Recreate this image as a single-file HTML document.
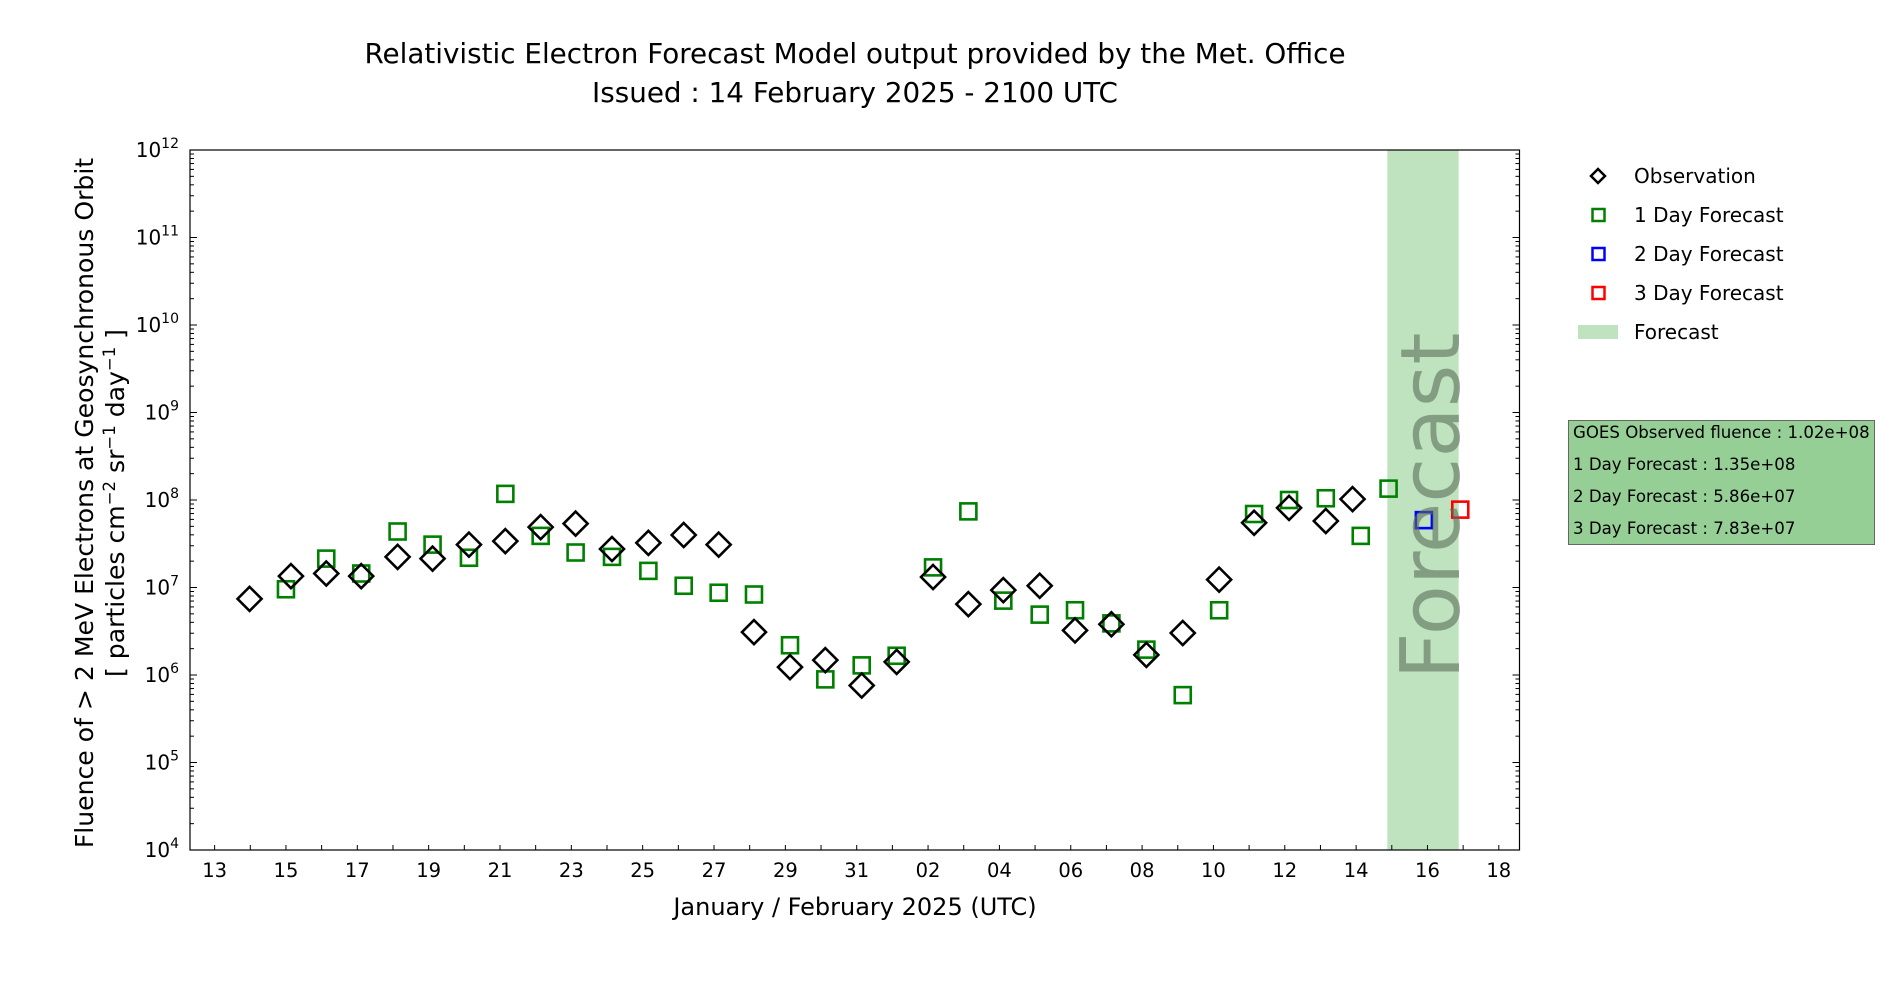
<!DOCTYPE html>
<html><head><meta charset="utf-8">
<style>
html,body{margin:0;padding:0;background:#fff;}
svg{display:block;font-family:"DejaVu Sans","Liberation Sans",sans-serif;}
</style></head>
<body>
<svg id="chart" width="1900" height="1000" viewBox="0 0 1900 1000" xmlns="http://www.w3.org/2000/svg">
  <text x="855" y="63" font-size="27.8" text-anchor="middle" fill="#000">Relativistic Electron Forecast Model output provided by the Met. Office</text>
  <text x="855" y="102" font-size="27.8" text-anchor="middle" fill="#000">Issued : 14 February 2025 - 2100 UTC</text>
  <g id="plot"></g>
  <text x="855" y="915" font-size="24" text-anchor="middle" fill="#000">January / February 2025 (UTC)</text>
  <g font-size="25.1" fill="#000">
    <text transform="translate(93,503) rotate(-90)" text-anchor="middle">Fluence of &gt; 2 MeV Electrons at Geosynchronous Orbit</text>
    <text transform="translate(124,503) rotate(-90)" text-anchor="middle">[ particles cm<tspan baseline-shift="super" font-size="16.5">−2</tspan> sr<tspan baseline-shift="super" font-size="16.5">−1</tspan> day<tspan baseline-shift="super" font-size="16.5">−1</tspan> ]</text>
  </g>
  <g font-size="20" fill="#000">
    <g>
      <polygon points="1598,169 1605,176 1598,183 1591,176" fill="none" stroke="#000" stroke-width="2.5"/>
      <text x="1634" y="183">Observation</text></g>
    <g>
      <rect x="1592.5" y="209" width="12" height="12" fill="none" stroke="#008000" stroke-width="2.5"/>
      <text x="1634" y="222">1 Day Forecast</text></g>
    <g>
      <rect x="1592.5" y="248" width="12" height="12" fill="none" stroke="#0000ff" stroke-width="2.5"/>
      <text x="1634" y="261">2 Day Forecast</text></g>
    <g>
      <rect x="1592.5" y="287" width="12" height="12" fill="none" stroke="#ff0000" stroke-width="2.5"/>
      <text x="1634" y="300">3 Day Forecast</text></g>
    <g>
      <rect x="1578" y="325" width="40" height="14" fill="#bfe3bf"/>
      <text x="1634" y="339">Forecast</text></g>
  </g>
  <g font-size="16.6" fill="#000">
    <rect x="1568.5" y="420.5" width="306" height="124" fill="#96cf96" stroke="#666" stroke-width="1"/>
    <text x="1573" y="438">GOES Observed fluence : 1.02e+08</text>
    <text x="1573" y="470">1 Day Forecast : 1.35e+08</text>
    <text x="1573" y="502">2 Day Forecast : 5.86e+07</text>
    <text x="1573" y="534">3 Day Forecast : 7.83e+07</text>
  </g>
</svg>
<script>
// days since 13 January 2025; values as log10(fluence)
const obsDays = [0.98,2.14,3.13,4.11,5.13,6.11,7.13,8.15,9.14,10.12,11.14,12.16,13.15,14.13,15.12,16.13,17.12,18.14,19.12,20.14,21.13,22.11,23.13,24.12,25.14,26.12,27.14,28.16,29.14,30.12,31.15,31.9];
const obsLog = [6.87,7.13,7.16,7.13,7.35,7.33,7.49,7.53,7.69,7.73,7.44,7.51,7.60,7.49,6.49,6.09,6.17,5.88,6.15,7.12,6.81,6.97,7.02,6.51,6.58,6.23,6.48,7.09,7.74,7.91,7.76,8.01];
const f1Days = [2.0,3.13,4.11,5.13,6.11,7.13,8.15,9.14,10.12,11.14,12.16,13.15,14.13,15.12,16.13,17.12,18.14,19.12,20.14,21.13,22.11,23.13,24.12,25.14,26.12,27.14,28.16,29.14,30.12,31.15,32.13,32.91];
const f1Log = [6.98,7.33,7.16,7.64,7.49,7.34,8.07,7.59,7.40,7.35,7.19,7.02,6.94,6.92,6.34,5.95,6.11,6.22,7.23,7.87,6.85,6.69,6.74,6.59,6.29,5.77,6.74,7.84,8.00,8.02,7.59,8.13];
const f2Days = [33.9];
const f2Log = [7.77];
const f3Days = [34.92];
const f3Log = [7.89];
const xTickLabels = ["13","15","17","19","21","23","25","27","29","31","02","04","06","08","10","12","14","16","18"];
const xTickDays = [0,2,4,6,8,10,12,14,16,18,20,22,24,26,28,30,32,34,36];
const yDecades = [4,5,6,7,8,9,10,11,12];
const bandStart = 32.875, bandEnd = 34.875;

const L=190, R=1519.5, T=150, B=850;
const xMin=-0.69, xMax=36.58, yMin=4, yMax=12;
const x = d => L + (d - xMin) / (xMax - xMin) * (R - L);
const y = v => B - (v - yMin) / (yMax - yMin) * (B - T);
const NS="http://www.w3.org/2000/svg";
const g=document.getElementById('plot');
function el(tag, attrs, parent){const e=document.createElementNS(NS,tag);for(const k in attrs)e.setAttribute(k,attrs[k]);(parent||g).appendChild(e);return e;}

const band=el('rect',{x:x(bandStart),y:T,width:x(bandEnd)-x(bandStart),height:B-T,fill:'#bfe3bf'});



const ticks=el('g',{stroke:'#000','stroke-width':1});


for(let d=0; d<=36; d++){
  el('line',{x1:x(d),x2:x(d),y1:B,y2:B-5},ticks);
}
for(let i=0;i<yDecades.length;i++){
  const v=yDecades[i];
  el('line',{x1:L,x2:L+7,y1:y(v),y2:y(v)},ticks);
  el('line',{x1:R,x2:R-7,y1:y(v),y2:y(v)},ticks);
  if(v<12){for(let m=2;m<10;m++){const yy=y(v+Math.log10(m));
    el('line',{x1:L,x2:L+4,y1:yy,y2:yy},ticks);el('line',{x1:R,x2:R-4,y1:yy,y2:yy},ticks);}}
}
for(let i=0;i<xTickLabels.length;i++){
  const t=el('text',{x:x(xTickDays[i]),y:B+27,'text-anchor':'middle','font-size':'19.5',fill:'#000'});
  t.textContent=xTickLabels[i];
  
  
}
for(let i=0;i<yDecades.length;i++){
  const t=el('text',{x:179,y:y(yDecades[i])+7,'text-anchor':'end','font-size':'20',fill:'#000'});
  t.innerHTML='10<tspan dy="-9" font-size="14">'+yDecades[i]+'</tspan>';
  
  
}
const fr=el('rect',{x:L,y:T,width:R-L,height:B-T,fill:'none',stroke:'#000','stroke-width':1.2});



function squares(days, vals, color, name){
  for(let i=0;i<days.length;i++){
    const r=el('rect',{x:x(days[i])-8,y:y(vals[i])-8,width:16,height:16,fill:'none',stroke:color,'stroke-width':2.6});
    
    
  }
}
squares(f1Days,f1Log,'#008000','one-day-forecast-point');
for(let i=0;i<obsDays.length;i++){
  const cx=x(obsDays[i]),cy=y(obsLog[i]),s=12;
  const p=el('polygon',{points:`${cx},${cy-s} ${cx+s},${cy} ${cx},${cy+s} ${cx-s},${cy}`,fill:'none',stroke:'#000','stroke-width':2.6});
  
  
}
squares(f2Days,f2Log,'#0000ff','two-day-forecast-point');
squares(f3Days,f3Log,'#ff0000','three-day-forecast-point');

const bt=el('text',{transform:`translate(${(x(bandStart)+x(bandEnd))/2+36},506) rotate(-90)`,'text-anchor':'middle','font-size':'82',fill:'#5a6e58','fill-opacity':'0.6'});
bt.textContent='Forecast';


</script>
</body></html>
